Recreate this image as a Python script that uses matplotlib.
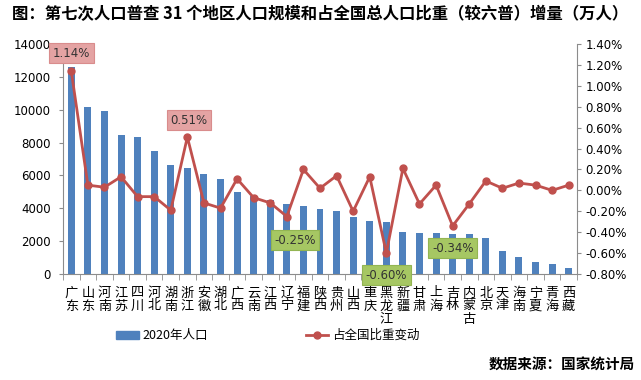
import matplotlib
matplotlib.use("Agg")
import matplotlib.pyplot as plt
from matplotlib.lines import Line2D
from matplotlib.patches import Patch
import numpy as np

plt.rcParams['font.family'] = ['Noto Sans CJK SC', 'DejaVu Sans']

regions = ["广东", "山东", "河南", "江苏", "四川", "河北", "湖南", "浙江", "安徽", "湖北",
           "广西", "云南", "江西", "辽宁", "福建", "陕西", "贵州", "山西", "重庆", "黑龙江",
           "新疆", "甘肃", "上海", "吉林", "内蒙古", "北京", "天津", "海南", "宁夏", "青海", "西藏"]
population = [12601, 10153, 9937, 8475, 8367, 7461, 6644, 6457, 6103, 5775,
              5013, 4721, 4519, 4259, 4154, 3953, 3856, 3492, 3205, 3185,
              2585, 2502, 2487, 2407, 2405, 2189, 1387, 1008, 720, 592, 365]
share_change = [1.14, 0.05, 0.03, 0.13, -0.06, -0.06, -0.19, 0.51, -0.12, -0.17,
                0.11, -0.07, -0.12, -0.25, 0.20, 0.02, 0.14, -0.20, 0.13, -0.60,
                0.21, -0.13, 0.05, -0.34, -0.13, 0.09, 0.02, 0.07, 0.05, 0.00, 0.05]
left_ticks = [0, 2000, 4000, 6000, 8000, 10000, 12000, 14000]
right_ticks = [-0.8, -0.6, -0.4, -0.2, 0.0, 0.2, 0.4, 0.6, 0.8, 1.0, 1.2, 1.4]
highlight_pos = {"广东": (0, 13), "浙江": (1, 12), "辽宁": (6, -17), "黑龙江": (0, -16), "吉林": (0, -16)}

title = "图：第七次人口普查 31 个地区人口规模和占全国总人口比重（较六普）增量（万人）"
bar_label = "2020年人口"
line_label = "占全国比重变动"
source = "数据来源：国家统计局"

BLUE = "#4F81BD"
RED = "#C0504D"
GRAY = "#8C8C8C"

fig = plt.figure(figsize=(6.41, 3.80), dpi=100)
ax = fig.add_axes([63/641, 1-274/380, (577-63)/641, (274-44)/380])
x = np.arange(len(regions))
ax.bar(x, population, width=0.42, color=BLUE, zorder=2)
ax.set_xlim(-0.5, len(regions)-0.5)
ax.set_ylim(0, 14000)
ax.set_yticks(left_ticks)
ax.set_yticklabels([str(v) for v in left_ticks], fontsize=8.5, family='DejaVu Sans')
ax.set_xticks(x)
ax.set_xticklabels(["\n".join(r) for r in regions], fontsize=9.5, linespacing=1.0, va='top')
ax.tick_params(axis='x', length=0, pad=9)
ax.set_xticks(np.arange(-0.5, len(regions), 1), minor=True)
ax.tick_params(axis='x', which='minor', length=4, color=GRAY, direction='out')
ax.tick_params(axis='y', length=3, color=GRAY, pad=6)
for s in ['top', 'right']:
    ax.spines[s].set_visible(False)
ax.spines['left'].set_color(GRAY)
ax.spines['bottom'].set_color(GRAY)

ax2 = ax.twinx()
ax2.plot(x, share_change, color=RED, lw=2, marker='o', ms=5, zorder=3)
ax2.set_ylim(-0.8, 1.4)
ax2.set_yticks(right_ticks)
ax2.set_yticklabels([f"{v:.2f}%" for v in right_ticks], fontsize=8.5, family='DejaVu Sans')
ax2.tick_params(axis='y', length=3, color=GRAY, pad=3)
for s in ['top', 'left', 'bottom']:
    ax2.spines[s].set_visible(False)
ax2.spines['right'].set_color(GRAY)

for name, (dx, dy) in highlight_pos.items():
    i = regions.index(name)
    v = share_change[i]
    pos = v > 0
    fc = "#E4A3A3" if pos else "#A6C763"
    ec = "#D98C8C" if pos else "#93B552"
    ax2.annotate(f"{v:.2f}%", (i, v), xytext=(dx, dy), textcoords='offset points',
                 ha='center', va='center', fontsize=8.5, family='DejaVu Sans', color="#333333",
                 bbox=dict(boxstyle='square,pad=0.3', fc=fc, ec=ec, lw=0.8), zorder=5)

fig.text(0.5, 0.963, title, ha='center', va='center', fontsize=11.8, fontweight='bold')

handles = [Patch(color=BLUE), Line2D([], [], color=RED, lw=2, marker='o', ms=5)]
fig.legend(handles, [bar_label, line_label], loc='center', bbox_to_anchor=(0.418, 0.117),
           ncol=2, frameon=False, fontsize=9, handlelength=1.8, handleheight=0.6,
           columnspacing=7.8, handletextpad=0.3)

fig.text(0.99, 0.04, source, ha='right', va='center', fontsize=10.5, fontweight='bold')

fig.savefig("out.png", dpi=100)
